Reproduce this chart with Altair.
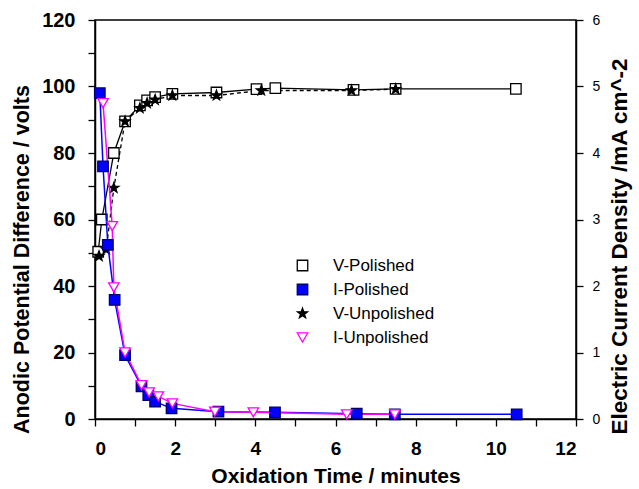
import altair as alt
import pandas as pd

# ---- data ----
series_names = ["V-Polished", "I-Polished", "V-Unpolished", "I-Unpolished"]

vp_t = [0.08, 0.17, 0.47, 0.75, 1.12, 1.3, 1.5, 1.93, 3.03, 4.03, 4.5, 6.45, 7.5, 10.5]
vp_v = [50.3, 60, 80, 89.5, 94.3, 95.8, 96.8, 97.8, 98.2, 99.2, 99.5, 99.0, 99.3, 99.3]

vu_t = [0.1, 0.28, 0.47, 0.75, 1.12, 1.3, 1.5, 1.93, 3.03, 4.15, 6.4, 7.5]
vu_v = [49.0, 51.0, 69.5, 89.5, 93.5, 95.0, 96.0, 97.3, 97.3, 98.8, 98.8, 99.2]

ip_t = [0.12, 0.2, 0.32, 0.49, 0.75, 1.16, 1.33, 1.5, 1.91, 3.08, 4.49, 6.53, 7.48, 10.52]
ip_i = [4.9, 3.8, 2.62, 1.79, 0.96, 0.49, 0.36, 0.26, 0.16, 0.11, 0.1, 0.08, 0.07, 0.07]

iu_t = [0.2, 0.43, 0.47, 0.75, 1.16, 1.35, 1.58, 1.93, 2.99, 3.95, 6.28, 7.48]
iu_i = [4.75, 2.9, 1.98, 1.0, 0.51, 0.4, 0.34, 0.235, 0.11, 0.1, 0.07, 0.07]

v_df = pd.DataFrame(
    [{"t": t, "v": v, "series": "V-Polished", "order": k} for k, (t, v) in enumerate(zip(vp_t, vp_v))]
    + [{"t": t, "v": v, "series": "V-Unpolished", "order": k} for k, (t, v) in enumerate(zip(vu_t, vu_v))]
)
i_df = pd.DataFrame(
    [{"t": t, "i": v, "series": "I-Polished", "order": k} for k, (t, v) in enumerate(zip(ip_t, ip_i))]
    + [{"t": t, "i": v, "series": "I-Unpolished", "order": k} for k, (t, v) in enumerate(zip(iu_t, iu_i))]
)

FONT = "Liberation Sans"
STAR = "M0,-1L0.24,-0.33L0.95,-0.31L0.38,0.12L0.59,0.81L0,0.4L-0.59,0.81L-0.38,0.12L-0.95,-0.31L-0.24,-0.33Z"

legend = alt.Legend(
    title=None, orient="none", legendX=199, legendY=237,
    labelFont=FONT, labelFontSize=17, labelColor="black",
    symbolSize=110, symbolStrokeWidth=1.3, rowPadding=6, labelOffset=22,
)
shape_enc = alt.Shape("series:N", scale=alt.Scale(domain=series_names,
                      range=["square", "square", STAR, "triangle-down"]), legend=legend)
fill_enc = alt.Fill("series:N", scale=alt.Scale(domain=series_names,
                    range=["white", "#0000ff", "black", "white"]), legend=legend)
stroke_enc = alt.Stroke("series:N", scale=alt.Scale(domain=series_names,
                        range=["black", "#000066", "black", "#ff00ff"]), legend=legend)

x_enc = alt.X("t:Q", scale=alt.Scale(domain=[0, 12], nice=False),
              axis=alt.Axis(values=list(range(0, 13)),
                            labelExpr="datum.value % 2 == 0 ? datum.label : ''",
                            labelFontSize=19, labelPadding=13,
                            title="Oxidation Time / minutes",
                            titleFontSize=21, titlePadding=7))

yl_enc = alt.Y("v:Q", scale=alt.Scale(domain=[0, 120], nice=False),
               axis=alt.Axis(values=list(range(0, 121, 10)), orient="left",
                             labelExpr="datum.value % 20 == 0 ? datum.label : ''",
                             labelFontSize=20, labelPadding=13,
                             title="Anodic Potential Difference / volts",
                             titleFontSize=21.5, titlePadding=8, titleY=239))
yr_enc = alt.Y("i:Q", scale=alt.Scale(domain=[0, 6], nice=False),
               axis=alt.Axis(values=[k / 2 for k in range(13)], orient="right",
                             format="d",
                             labelExpr="datum.value % 1 == 0 ? datum.label : ''",
                             labelFontSize=14, labelFontWeight="normal", labelPadding=9,
                             title="Electric Current Density /mA cm^-2",
                             titleFontSize=22.5, titleY=226,
                             titleAngle=270, titlePadding=9, titleBaseline="top"))

base_v = alt.Chart(v_df)
base_i = alt.Chart(i_df)

v_line_p = base_v.transform_filter(alt.datum.series == "V-Polished").mark_line(
    color="black", strokeWidth=1.3).encode(x=x_enc, y=yl_enc, order="order:Q")
v_line_u = base_v.transform_filter(alt.datum.series == "V-Unpolished").mark_line(
    color="black", strokeWidth=1.3, strokeDash=[4, 3]).encode(x=x_enc, y=yl_enc, order="order:Q")
v_pts = base_v.mark_point(filled=False, opacity=1, size=110, strokeWidth=1.3).encode(
    x=x_enc, y=yl_enc, shape=shape_enc, fill=fill_enc, stroke=stroke_enc)

i_line_p = base_i.transform_filter(alt.datum.series == "I-Polished").mark_line(
    color="#0000ff", strokeWidth=1.5).encode(x=x_enc, y=yr_enc, order="order:Q")
i_line_u = base_i.transform_filter(alt.datum.series == "I-Unpolished").mark_line(
    color="#ff00ff", strokeWidth=1.5).encode(x=x_enc, y=yr_enc, order="order:Q")
i_pts = base_i.mark_point(filled=False, opacity=1, size=110, strokeWidth=1.3).encode(
    x=x_enc, y=yr_enc, shape=shape_enc, fill=fill_enc, stroke=stroke_enc)

left = alt.layer(v_line_p, v_line_u, v_pts)
right = alt.layer(i_line_p, i_line_u, i_pts)

chart = alt.layer(left, right).resolve_scale(y="independent").properties(
    width=481, height=399,
    autosize=alt.AutoSizeParams(type="none"),
    padding={"left": 95, "top": 20, "right": 63, "bottom": 70},
    background="white",
).configure_view(
    stroke="black", strokeWidth=1.5
).configure_axis(
    grid=False, domainColor="black", domainWidth=1.5, tickColor="black",
    tickWidth=1.3, tickSize=7, labelFont=FONT, labelFontSize=17,
    labelFontWeight="bold", labelColor="black", labelPadding=5,
    titleFont=FONT, titleFontSize=17, titleFontWeight="bold", titleColor="black",
)

chart.save("out.html", embed_options={"renderer": "svg", "actions": False})
